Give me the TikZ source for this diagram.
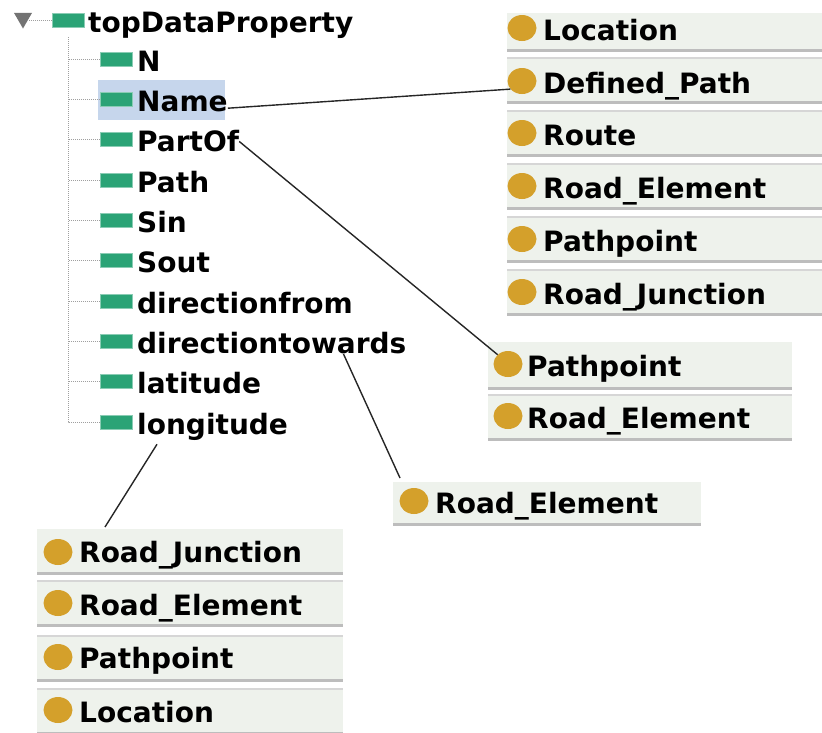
\documentclass[tikz,border=0pt]{standalone}
\usepackage{fontspec}
\setmainfont{DejaVu Sans}
\usetikzlibrary{shapes.geometric}

\definecolor{propgreen}{HTML}{2BA376}
\definecolor{classgold}{HTML}{D4A02B}
\definecolor{rowbg}{HTML}{EEF2EC}
\definecolor{selblue}{HTML}{C6D6EC}
\definecolor{sepdark}{HTML}{BDBDBD}
\definecolor{seplight}{HTML}{D6D6D6}

\tikzset{
	lbl/.style={anchor=base west, inner sep=0, font=\fontsize{28}{30}\selectfont\bfseries},
	prop/.style={fill=propgreen, draw=propgreen!55, line width=1pt, minimum width=32pt, minimum height=14pt, inner sep=0},
	cls/.style={ellipse, fill=classgold, minimum width=29pt, minimum height=26pt, inner sep=0},
	treeline/.style={draw=gray!75, dash pattern=on 1pt off 1pt, line width=1pt},
	link/.style={draw=black!85, line width=1.4pt},
	firstrow/.style={anchor=north west, fill=rowbg, inner sep=0, minimum width=#1, minimum height=47pt,
		path picture={\draw[sepdark, line width=3pt] ([yshift=1.5pt]path picture bounding box.south west) -- ([yshift=1.5pt]path picture bounding box.south east);}},
	row/.style={anchor=north west, fill=rowbg, inner sep=0, minimum width=#1, minimum height=47pt,
		path picture={\draw[sepdark, line width=3pt] ([yshift=1.5pt]path picture bounding box.south west) -- ([yshift=1.5pt]path picture bounding box.south east);
			\draw[seplight, line width=2pt] ([yshift=-1pt]path picture bounding box.north west) -- ([yshift=-1pt]path picture bounding box.north east);}}
}

\begin{document}
\begin{tikzpicture}[x=1pt, y=-1pt]
	\useasboundingbox (0,0) rectangle (822,732);

	% property tree
	\fill[selblue] (98,80) rectangle (225,120);
	\node[regular polygon, regular polygon sides=3, shape border rotate=180, fill=black!55, minimum size=21pt, inner sep=0] (tri) at (23,18) {};
	\node[prop] (ptop) at (68.5,20) {};
	\node[lbl] (ttop) at (88,32) {topDataProperty};
	\draw[treeline] (ptop.west) -- (ptop.west -| tri.east);
	\coordinate (trunk) at (68,37);
	\foreach \id/\txt [count=\k] in {N/N, Name/Name, PartOf/PartOf, Path/Path, Sin/Sin, Sout/Sout,
		dirfrom/directionfrom, dirtowards/directiontowards, lat/latitude, lon/longitude} {
		\node[prop] (p\id) at (116.5,{19+40.3*\k}) {};
		\node[lbl] (t\id) at (137,{31+40.3*\k}) {\txt};
		\draw[treeline] (p\id.west) -- (p\id.west -| trunk);
	}
	\draw[treeline] (trunk) |- (plon.west);

	% classes for Name
	\node[firstrow=315pt, minimum height=39pt] (loc) at (507,13) {};
	\node[row=315pt] (defpath) at (507,57) {};
	\node[row=315pt] (route) at (507,110) {};
	\node[row=315pt] (roadel) at (507,163) {};
	\node[row=315pt] (ppoint) at (507,216) {};
	\node[row=315pt] (roadjn) at (507,269) {};
	\node[cls] (locC) at (522,28) {};
	\node[cls] (defpathC) at (522,81) {};
	\node[cls] (routeC) at (522,133) {};
	\node[cls] (roadelC) at (522,186) {};
	\node[cls] (ppointC) at (522,239) {};
	\node[cls] (roadjnC) at (522,292) {};
	\node[lbl] at (543,40) {Location};
	\node[lbl] at (543,93) {Defined\_Path};
	\node[lbl] at (543,145) {Route};
	\node[lbl] at (543,198) {Road\_Element};
	\node[lbl] at (543,251) {Pathpoint};
	\node[lbl] at (543,304) {Road\_Junction};

	% classes for PartOf
	\node[firstrow=304pt, minimum height=48pt] (pp2) at (488,342) {};
	\node[row=304pt] (re2) at (488,394) {};
	\node[cls] (pp2C) at (508,364) {};
	\node[cls] (re2C) at (508,416) {};
	\node[lbl] at (527,376) {Pathpoint};
	\node[lbl] at (527,428) {Road\_Element};

	% classes for directiontowards
	\node[firstrow=308pt, minimum height=44pt] (re3) at (393,482) {};
	\node[cls] (re3C) at (414,501) {};
	\node[lbl] at (435,513) {Road\_Element};

	% classes for longitude
	\node[firstrow=306pt, minimum height=46pt] (rj4) at (37,529) {};
	\node[row=306pt] (re4) at (37,580) {};
	\node[row=306pt] (pp4) at (37,635) {};
	\node[row=306pt] (loc4) at (37,688) {};
	\node[cls] (rj4C) at (58,552) {};
	\node[cls] (re4C) at (58,603) {};
	\node[cls] (pp4C) at (58,657) {};
	\node[cls] (loc4C) at (58,710) {};
	\node[lbl] at (79,562) {Road\_Junction};
	\node[lbl] at (79,615) {Road\_Element};
	\node[lbl] at (79,668) {Pathpoint};
	\node[lbl] at (79,722) {Location};

	% links
	\draw[link] ([yshift=4pt]tName.south east) -- (defpathC.215);
	\draw[link] (tPartOf.east) -- (pp2C.north west);
	\draw[link] ([xshift=-63pt]tdirtowards.south east) -- ([shift={(7pt,4pt)}]re3.north west);
	\draw[link] ([shift={(20pt,-4pt)}]tlon.south west) -- ([shift={(68pt,2pt)}]rj4.north west);
\end{tikzpicture}
\end{document}
